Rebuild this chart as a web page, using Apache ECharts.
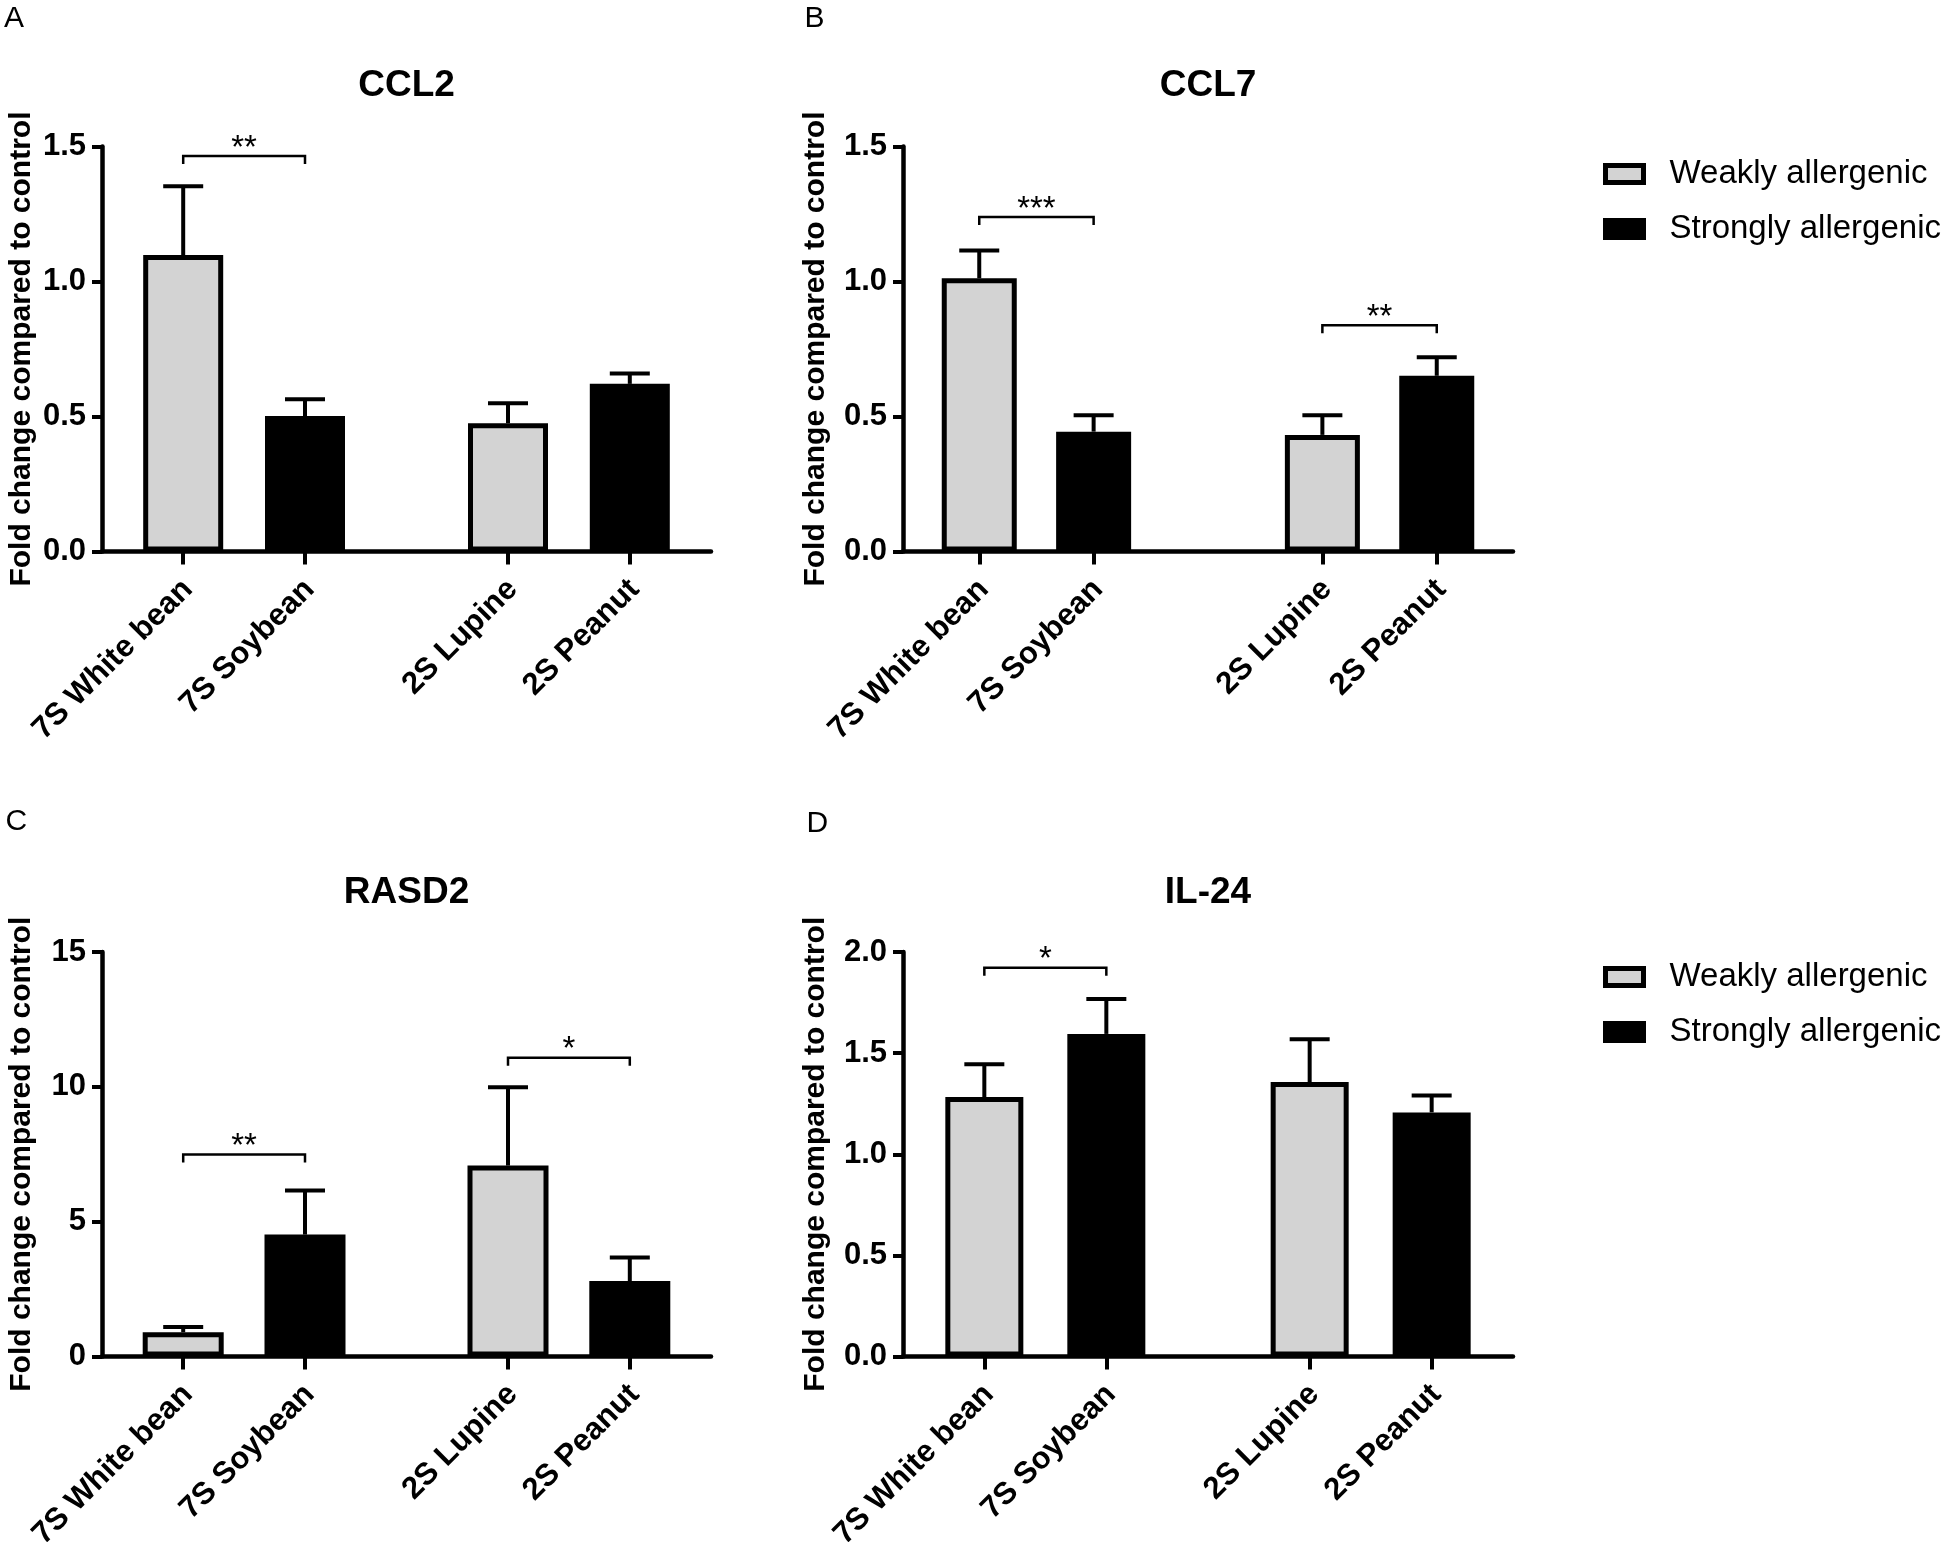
<!DOCTYPE html>
<html><head><meta charset="utf-8">
<script src="https://cdn.jsdelivr.net/npm/echarts@6/dist/echarts.min.js"></script>
<style>html,body{margin:0;padding:0;background:#fff}#c{width:1946px;height:1542px}</style>
</head><body><div id="c"></div>
<script>
// ---------------- data ----------------
const categories = ['7S White bean', '7S Soybean', '2S Lupine', '2S Peanut'];
const groupNames = ['Weakly allergenic', 'Strongly allergenic'];
const categoryGroup = [0, 1, 0, 1];

const panelLetters = ['A', 'B', 'C', 'D'];
const panelTitles = ['CCL2', 'CCL7', 'RASD2', 'IL-24'];
const yAxisTitle = 'Fold change compared to control';

const ccl2Mean = [1.098, 0.502, 0.475, 0.621];
const ccl2Sem = [0.255, 0.062, 0.074, 0.038];
const ccl7Mean = [1.012, 0.444, 0.432, 0.651];
const ccl7Sem = [0.103, 0.061, 0.073, 0.069];
const rasd2Mean = [0.9, 4.52, 7.08, 2.8];
const rasd2Sem = [0.19, 1.64, 2.9, 0.87];
const il24Mean = [1.283, 1.595, 1.357, 1.207];
const il24Sem = [0.162, 0.173, 0.212, 0.083];

const yMax = [1.5, 1.5, 15, 2.0];
const yStep = [0.5, 0.5, 5, 0.5];
const yDecimals = [1, 1, 0, 1];

// significance brackets: pairs of category indices, bracket height, label
const ccl2SigPairs = [[0, 1]];          const ccl2SigY = [1.465];        const ccl2SigText = ['**'];
const ccl7SigPairs = [[0, 1], [2, 3]];  const ccl7SigY = [1.239, 0.838]; const ccl7SigText = ['***', '**'];
const rasd2SigPairs = [[0, 1], [2, 3]]; const rasd2SigY = [7.49, 11.08]; const rasd2SigText = ['**', '*'];
const il24SigPairs = [[0, 1]];          const il24SigY = [1.922];        const il24SigText = ['*'];

const panelMeans = [ccl2Mean, ccl7Mean, rasd2Mean, il24Mean];
const panelSems = [ccl2Sem, ccl7Sem, rasd2Sem, il24Sem];
const panelSigPairs = [ccl2SigPairs, ccl7SigPairs, rasd2SigPairs, il24SigPairs];
const panelSigY = [ccl2SigY, ccl7SigY, rasd2SigY, il24SigY];
const panelSigText = [ccl2SigText, ccl7SigText, rasd2SigText, il24SigText];

// ---------------- layout (pixels / slot positions) ----------------
const layout = [
  {left: 102, top: 146.6, width: 609, height: 404.9, nSlots: 16, slots: [2, 5, 10, 13], barWidth: 80, nameGap: 65.5, titleX: 406.5, titleY: 67.5, letterX: 4, letterY: 4},
  {left: 903, top: 146.6, width: 610, height: 404.9, nSlots: 17, slots: [2, 5, 11, 14], barWidth: 75, nameGap: 72, titleX: 1208, titleY: 67.5, letterX: 804.5, letterY: 4},
  {left: 102, top: 952, width: 609, height: 404.5, nSlots: 16, slots: [2, 5, 10, 13], barWidth: 81, nameGap: 65.5, titleX: 406.5, titleY: 874, letterX: 5.5, letterY: 807},
  {left: 903, top: 952, width: 610, height: 404.5, nSlots: 16, slots: [2, 5, 10, 13], barWidth: 78, nameGap: 72, titleX: 1208, titleY: 874, letterX: 806.5, letterY: 808.5}
];
const legendTops = [157.5, 960.5];

const FONT = 'Liberation Sans, Arial, Helvetica, sans-serif';
const GRAY = '#d3d3d3';
const BLACK = '#000000';

const option = {
  backgroundColor: '#ffffff',
  animation: false,
  grid: [], xAxis: [], yAxis: [], series: [], title: [], legend: []
};

layout.forEach((L, i) => {
  const axisData = [];
  for (let k = 0; k < L.nSlots; k++) axisData.push('slot' + k);
  L.slots.forEach((s, j) => { axisData[s] = categories[j]; });
  const isReal = (idx) => L.slots.indexOf(idx) >= 0;

  option.grid.push({left: L.left, top: L.top, width: L.width, height: L.height, containLabel: false, outerBoundsMode: 'none'});

  option.xAxis.push({
    type: 'category', gridIndex: i, data: axisData, boundaryGap: false,
    axisLine: {show: true, lineStyle: {color: BLACK, width: 4.5}},
    axisTick: {show: true, interval: (idx) => isReal(idx), length: 13, lineStyle: {color: BLACK, width: 4}},
    axisLabel: {
      show: true, interval: (idx) => isReal(idx), rotate: 45, margin: 28.5,
      align: 'right', verticalAlign: 'top', lineHeight: 13,
      fontSize: 31, fontWeight: 'bold', fontFamily: FONT, color: BLACK
    },
    splitLine: {show: false}
  });

  const dec = yDecimals[i];
  option.yAxis.push({
    type: 'value', gridIndex: i, min: 0, max: yMax[i], interval: yStep[i],
    name: yAxisTitle, nameLocation: 'middle', nameGap: L.nameGap, nameRotate: 90,
    nameTextStyle: {fontSize: 30, fontWeight: 'bold', fontFamily: FONT, color: BLACK},
    axisLine: {show: true, lineStyle: {color: BLACK, width: 4.5}},
    axisTick: {show: true, length: 10, lineStyle: {color: BLACK, width: 4}},
    axisLabel: {show: true, margin: 16, fontSize: 31, fontWeight: 'bold', fontFamily: FONT, color: BLACK,
      formatter: (v) => Number(v).toFixed(dec)},
    splitLine: {show: false}
  });

  const means = panelMeans[i], sems = panelSems[i];
  [0, 1].forEach((g) => {
    const data = axisData.map(() => '-');
    categories.forEach((c, j) => { if (categoryGroup[j] === g) data[L.slots[j]] = means[j]; });
    option.series.push({
      type: 'bar', name: groupNames[g], xAxisIndex: i, yAxisIndex: i,
      data: data, barWidth: L.barWidth, barGap: '-100%',
      itemStyle: {color: g === 0 ? GRAY : BLACK, borderColor: BLACK, borderWidth: 5},
      emphasis: {disabled: true}, z: 2
    });
  });

  // error bars (upper only)
  option.series.push({
    type: 'custom', xAxisIndex: i, yAxisIndex: i, z: 3,
    encode: {x: 0, y: [1, 2]},
    data: categories.map((c, j) => [L.slots[j], means[j], means[j] + sems[j]]),
    renderItem: (params, api) => {
      const base = api.coord([api.value(0), api.value(1)]);
      const top = api.coord([api.value(0), api.value(2)]);
      const hw = 20;
      return {type: 'group', children: [
        {type: 'line', shape: {x1: base[0], y1: base[1], x2: top[0], y2: top[1]}, style: {stroke: BLACK, lineWidth: 4}},
        {type: 'line', shape: {x1: top[0] - hw, y1: top[1], x2: top[0] + hw, y2: top[1]}, style: {stroke: BLACK, lineWidth: 4}}
      ]};
    }
  });

  // significance brackets
  const pairs = panelSigPairs[i], sy = panelSigY[i], st = panelSigText[i];
  option.series.push({
    type: 'custom', xAxisIndex: i, yAxisIndex: i, z: 4,
    encode: {x: [0, 1], y: 2},
    data: pairs.map((p, k) => [L.slots[p[0]], L.slots[p[1]], sy[k]]),
    renderItem: (params, api) => {
      const a = api.coord([api.value(0), api.value(2)]);
      const b = api.coord([api.value(1), api.value(2)]);
      const drop = 8;
      return {type: 'group', children: [
        {type: 'polyline', shape: {points: [[a[0], a[1] + drop], [a[0], a[1]], [b[0], b[1]], [b[0], b[1] + drop]]},
          style: {stroke: BLACK, lineWidth: 2.5, fill: null}},
        {type: 'text', x: (a[0] + b[0]) / 2, y: a[1] - 7.5,
          style: {text: st[params.dataIndex], align: 'center', verticalAlign: 'middle',
            font: '33px ' + FONT, fill: BLACK}}
      ]};
    }
  });

  option.title.push({
    text: panelTitles[i], left: L.titleX, top: L.titleY, textAlign: 'center', padding: 0,
    textStyle: {fontSize: 37, fontWeight: 'bold', fontFamily: FONT, color: BLACK}
  });
  option.title.push({
    text: panelLetters[i], left: L.letterX, top: L.letterY, padding: 0,
    textStyle: {fontSize: 30, fontWeight: 'normal', fontFamily: FONT, color: BLACK}
  });
});

legendTops.forEach((t) => {
  option.legend.push({
    data: groupNames, orient: 'vertical', left: 1603, top: t, padding: 0,
    icon: 'rect', itemWidth: 38, itemHeight: 17, itemGap: 22,
    selectedMode: false, itemStyle: {borderWidth: 5, borderColor: BLACK},
    textStyle: {fontSize: 33, fontFamily: FONT, color: BLACK, padding: [0, 0, 0, 21]}
  });
});

const chart = echarts.init(document.getElementById('c'), null, {renderer: 'canvas', width: 1946, height: 1542});
chart.setOption(option);
</script>
</body></html>
